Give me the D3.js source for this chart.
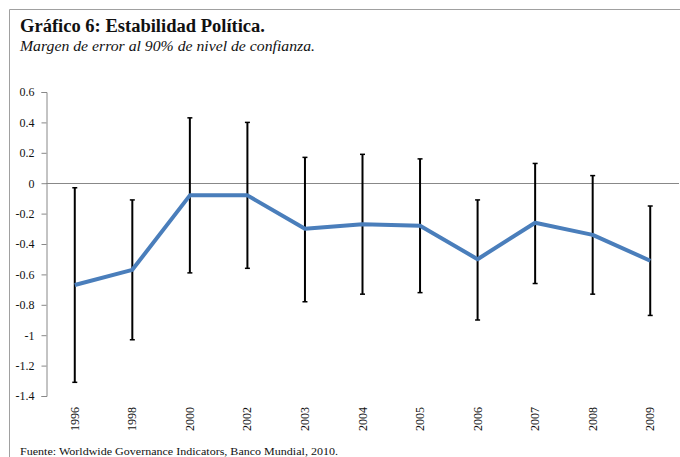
<!DOCTYPE html>
<html>
<head>
<meta charset="utf-8">
<script src="https://cdn.jsdelivr.net/npm/d3@7"></script>
<style>
  body { margin: 0; background: #fff; }
  text { font-family: "Liberation Serif", "DejaVu Serif", serif; fill: #111; }
</style>
</head>
<body>
<script>
const width = 680;
const height = 457;

// datos
const years = ["1996", "1998", "2000", "2002", "2003", "2004", "2005", "2006", "2007", "2008", "2009"];
const estimate = [-0.67, -0.57, -0.08, -0.08, -0.30, -0.27, -0.28, -0.50, -0.26, -0.34, -0.51];
const upper = [-0.03, -0.11, 0.43, 0.40, 0.17, 0.19, 0.16, -0.11, 0.13, 0.05, -0.15];
const lower = [-1.31, -1.03, -0.59, -0.56, -0.78, -0.73, -0.72, -0.90, -0.66, -0.73, -0.87];
const yTicks = [0.6, 0.4, 0.2, 0, -0.2, -0.4, -0.6, -0.8, -1, -1.2, -1.4];

var svg = d3
  .select("body")
  .append("svg")
  .attr("width", width)
  .attr("height", height);

// marco
svg.append("path")
  .attr("d", "M9.5," + height + "V9.5H" + width)
  .attr("fill", "none")
  .attr("stroke", "#a0a0a0")
  .attr("stroke-width", 1);

svg.append("text")
  .attr("x", 20)
  .attr("y", 32)
  .attr("font-size", 18)
  .attr("font-weight", "bold")
  .attr("textLength", 245)
  .attr("lengthAdjust", "spacingAndGlyphs")
  .text("Gráfico 6: Estabilidad Política.");

svg.append("text")
  .attr("x", 20)
  .attr("y", 51)
  .attr("font-size", 15)
  .attr("font-style", "italic")
  .attr("textLength", 295)
  .attr("lengthAdjust", "spacingAndGlyphs")
  .text("Margen de error al 90% de nivel de confianza.");

svg.append("text")
  .attr("x", 20)
  .attr("y", 455)
  .attr("font-size", 11)
  .attr("textLength", 318)
  .attr("lengthAdjust", "spacingAndGlyphs")
  .text("Fuente: Worldwide Governance Indicators, Banco Mundial, 2010.");

var x = d3.scaleBand().domain(years).range([46, 679]).padding(0);
var y = d3.scaleLinear().domain([-1.4, 0.6]).range([396, 92]);
var cx = d => x(d) + x.bandwidth() / 2;

// eje y
var yAxis = svg.append("g")
  .attr("transform", "translate(46.5,0)")
  .call(d3.axisLeft(y).tickValues(yTicks).tickSize(5).tickPadding(7)
    .tickFormat(d => d === 0 ? "0" : String(d)));
yAxis.select(".domain").attr("stroke", "#888");
yAxis.selectAll(".tick line").attr("stroke", "#888");
yAxis.selectAll(".tick text")
  .attr("font-size", 12)
  .attr("fill", "#111");

// linea de cero
svg.append("line")
  .attr("x1", 46).attr("x2", 679)
  .attr("y1", Math.round(y(0)) + 0.5).attr("y2", Math.round(y(0)) + 0.5)
  .attr("stroke", "#888");

// etiquetas de anos
svg.selectAll("text.year")
  .data(years)
  .enter()
  .append("text")
  .attr("class", "year")
  .attr("transform", d => "translate(" + (cx(d) + 4) + ",407) rotate(-90)")
  .attr("text-anchor", "end")
  .attr("font-size", 12)
  .text(d => d);

// barras de error
var bars = svg.append("g")
  .selectAll("g")
  .data(years)
  .enter()
  .append("g");

bars.append("line")
  .attr("x1", d => cx(d)).attr("x2", d => cx(d))
  .attr("y1", (d, i) => y(upper[i]))
  .attr("y2", (d, i) => y(lower[i]))
  .attr("stroke", "#000")
  .attr("stroke-width", 2);

bars.append("line")
  .attr("x1", d => cx(d) - 2.5).attr("x2", d => cx(d) + 2.5)
  .attr("y1", (d, i) => y(upper[i]))
  .attr("y2", (d, i) => y(upper[i]))
  .attr("stroke", "#000")
  .attr("stroke-width", 1.5);

bars.append("line")
  .attr("x1", d => cx(d) - 2.5).attr("x2", d => cx(d) + 2.5)
  .attr("y1", (d, i) => y(lower[i]))
  .attr("y2", (d, i) => y(lower[i]))
  .attr("stroke", "#000")
  .attr("stroke-width", 1.5);

// serie
var line = d3.line()
  .x((d, i) => cx(years[i]))
  .y(d => y(d));

svg.append("path")
  .datum(estimate)
  .attr("d", line)
  .attr("fill", "none")
  .attr("stroke", "#4a7ebb")
  .attr("stroke-width", 4)
  .attr("stroke-linejoin", "round");
</script>
</body>
</html>
